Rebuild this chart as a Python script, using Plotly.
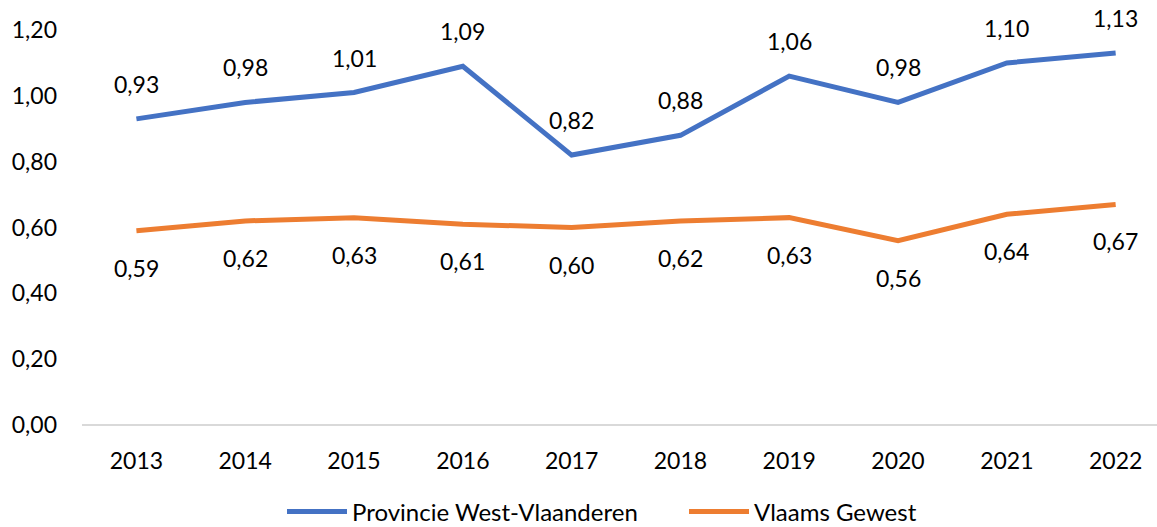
import plotly.graph_objects as go

years = ["2013", "2014", "2015", "2016", "2017", "2018", "2019", "2020", "2021", "2022"]
west_vlaanderen = [0.93, 0.98, 1.01, 1.09, 0.82, 0.88, 1.06, 0.98, 1.10, 1.13]
vlaams_gewest = [0.59, 0.62, 0.63, 0.61, 0.60, 0.62, 0.63, 0.56, 0.64, 0.67]
y_ticks = [0, 0.2, 0.4, 0.6, 0.8, 1.0, 1.2]

BLUE = "#4472C4"
ORANGE = "#ED7D31"
FONT = "Lato"

xs = list(range(len(years)))

def fmt(v):
    return f"{v:.2f}".replace(".", ",")

fig = go.Figure()
fig.add_trace(go.Scatter(x=xs, y=west_vlaanderen, mode="lines", name="Provincie West-Vlaanderen",
                         line=dict(color=BLUE, width=5)))
fig.add_trace(go.Scatter(x=xs, y=vlaams_gewest, mode="lines", name="Vlaams Gewest",
                         line=dict(color=ORANGE, width=5)))

annotations = []
for x, v in zip(xs, west_vlaanderen):
    annotations.append(dict(x=x, y=v, text=fmt(v), showarrow=False, yshift=35,
                            font=dict(family=FONT, size=23, color="#000")))
for x, v in zip(xs, vlaams_gewest):
    annotations.append(dict(x=x, y=v, text=fmt(v), showarrow=False, yshift=-37,
                            font=dict(family=FONT, size=23, color="#000")))

fig.update_layout(
    width=1157, height=527,
    margin=dict(l=82, r=0, t=30, b=102, autoexpand=False),
    paper_bgcolor="white", plot_bgcolor="white",
    separators=",.",
    font=dict(family=FONT, size=23, color="#000"),
    showlegend=True,
    legend=dict(orientation="h", xref="container", yref="container",
                x=282 / 1157, xanchor="left", y=15 / 527, yanchor="middle",
                font=dict(family=FONT, size=24, color="#000"), itemwidth=60,
                entrywidth=327, entrywidthmode="pixels"),
    annotations=annotations,
    xaxis=dict(range=[-0.5, 9.38], tickmode="array", tickvals=xs, ticktext=years,
               showgrid=False, zeroline=False, showline=False, ticks="",
               ticklabelstandoff=20),
    yaxis=dict(range=[0, 1.2], tickmode="array", tickvals=y_ticks,
               ticktext=[fmt(t) for t in y_ticks], showgrid=False,
               zeroline=True, zerolinecolor="#D9D9D9", zerolinewidth=2,
               showline=False, ticks="", ticklabelstandoff=24),
)

fig.write_html("out.html", config={"displayModeBar": False},
               post_script="document.body.style.margin='0';")
